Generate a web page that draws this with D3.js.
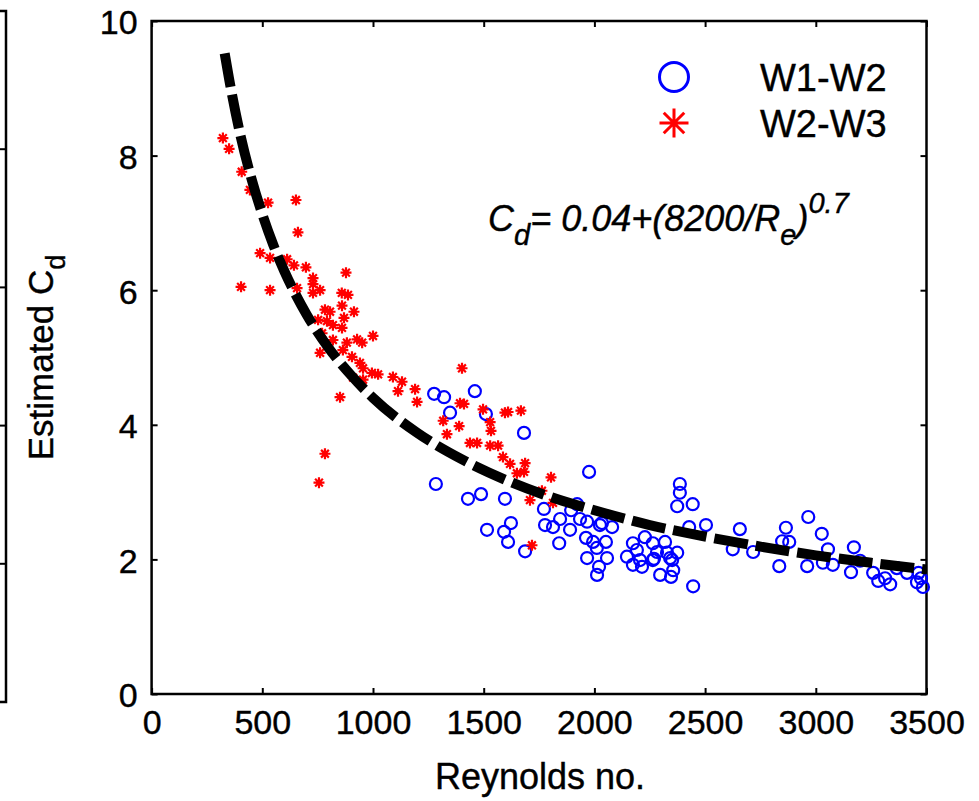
<!DOCTYPE html>
<html>
<head>
<meta charset="utf-8">
<script src="https://cdn.jsdelivr.net/npm/d3@7"></script>
<style>
  body { margin: 0; background: #fff; }
  svg { display: block; font-family: "Liberation Sans", Arial, sans-serif; }
  text { stroke: #000; stroke-width: 0.4px; }
</style>
</head>
<body>
<div id="chart"></div>
<script>
// W1-W2 (blue circles): Reynolds no., estimated Cd
var w12Re = [1276, 1321, 1460, 1348, 1510, 1682, 1284, 1429, 1488, 1596, 1772, 1777, 1515, 1623, 1592,
  1610, 1687, 1813, 1845, 1890, 1841, 1976, 1895, 1922, 1935, 1967, 2025, 2080, 2034, 1962, 1994, 2052,
  2011, 1967, 2057, 2021, 2012, 2386, 2386, 2374, 2444, 2428, 2504, 2657, 2625, 2147, 2174, 2192, 2228,
  2264, 2319, 2283, 2206, 2174, 2215, 2264, 2328, 2351, 2374, 2356, 2297, 2446, 2346, 2269, 2342, 2717,
  2865, 2848, 2880, 2835, 2961, 2966, 3027, 3055, 3032, 3077, 3172, 3159, 3200, 3259, 3282, 3313, 3336,
  3366, 3412, 3464, 3457, 3484, 3475];
var w12Cd = [4.46, 4.41, 4.50, 4.18, 4.16, 3.88, 3.12, 2.90, 2.97, 2.90, 2.75, 2.51, 2.44, 2.54, 2.41,
  2.26, 2.12, 2.48, 2.60, 2.44, 2.24, 3.30, 2.73, 2.82, 2.60, 2.56, 2.51, 2.48, 2.54, 2.32, 2.26, 2.26,
  2.17, 2.02, 2.02, 1.89, 1.77, 3.12, 2.99, 2.79, 2.82, 2.48, 2.51, 2.45, 2.15, 2.04, 2.24, 2.14, 2.33,
  2.24, 2.26, 2.11, 1.99, 1.92, 1.89, 1.99, 2.10, 1.99, 2.10, 1.84, 1.77, 1.60, 1.74, 2.01, 2.02, 2.11,
  2.47, 2.27, 2.26, 1.90, 1.90, 2.63, 2.38, 2.15, 1.95, 1.92, 2.18, 1.81, 1.98, 1.80, 1.68, 1.72, 1.63,
  1.87, 1.80, 1.80, 1.66, 1.59, 1.72];

// W2-W3 (red asterisks)
var w23Re = [322, 350, 526, 652, 661, 490, 535, 612, 643, 697, 404, 535, 657, 729, 729, 878, 729, 761,
  859, 887, 860, 914, 783, 806, 869, 752, 792, 819, 860, 1000, 928, 882, 770, 819, 951, 864, 761, 905,
  941, 955, 995, 1023, 910, 955, 1090, 1131, 1113, 1190, 1199, 851, 783, 756, 1402, 1393, 1411, 1317,
  1389, 1334, 1497, 1529, 1533, 1596, 1610, 1668, 1438, 1470, 1529, 1565, 1587, 1619, 1687, 1650, 1682,
  1804, 1763, 1709, 1813, 1718, 444, 407];
var w23Cd = [8.26, 8.10, 7.30, 7.34, 6.86, 6.55, 6.48, 6.46, 6.37, 6.34, 6.05, 6.00, 6.03, 6.18, 6.09,
  6.26, 5.96, 6.00, 5.96, 5.93, 5.77, 5.68, 5.71, 5.68, 5.59, 5.56, 5.54, 5.48, 5.44, 5.32, 5.27, 5.22,
  5.36, 5.26, 5.22, 5.11, 5.07, 5.01, 4.92, 4.84, 4.77, 4.75, 4.70, 4.67, 4.71, 4.64, 4.50, 4.53, 4.34,
  4.41, 3.57, 3.14, 4.84, 4.32, 4.31, 4.06, 3.98, 3.86, 4.23, 4.04, 3.91, 4.18, 4.19, 4.21, 3.73, 3.73,
  3.69, 3.69, 3.52, 3.42, 3.43, 3.28, 3.30, 3.22, 3.02, 2.88, 2.84, 2.21, 7.49, 7.76];

// fitted curve Cd = 0.04 + (8200/Re)^0.7
var fitRe = [330, 350, 400, 450, 500, 550, 600, 700, 800, 900, 1000, 1200, 1400, 1600, 1800, 2000,
  2250, 2500, 2750, 3000, 3250, 3500];
var fitCd = [9.52, 9.14, 8.32, 7.67, 7.13, 6.67, 6.28, 5.64, 5.14, 4.74, 4.40, 3.88, 3.49, 3.18, 2.93,
  2.73, 2.51, 2.34, 2.19, 2.06, 1.95, 1.85];

var xTicks = [0, 500, 1000, 1500, 2000, 2500, 3000, 3500];
var yTicks = [0, 2, 4, 6, 8, 10];
var seriesNames = ["W1-W2", "W2-W3"];

(function () {
  var W = 979, H = 801;
  var m = {left: 151.6, right: 926.5, top: 21, bottom: 694};
  var fontSize = 34;

  var svg = d3.select("#chart").append("svg")
    .attr("width", W)
    .attr("height", H);

  var x = d3.scaleLinear().domain([0, 3500]).range([m.left, m.right]);
  var y = d3.scaleLinear().domain([0, 10]).range([m.bottom, m.top]);

  // leftover frame of the neighbouring panel
  var side = d3.scaleLinear().domain([0, 5]).range([702, 11]);
  svg.append("path")
    .attr("d", "M0," + side(5) + "H6V" + side(0) + "H0")
    .attr("fill", "none").attr("stroke", "#000").attr("stroke-width", 2.5);
  svg.selectAll(".sidetick").data([1, 2, 3, 4]).enter().append("line")
    .attr("x1", 0).attr("x2", 6)
    .attr("y1", function (d) { return side(d); })
    .attr("y2", function (d) { return side(d); })
    .attr("stroke", "#000").attr("stroke-width", 2);

  // axes, ticks inside on all four sides
  var fmt = d3.format("d");
  var gx = svg.append("g").attr("transform", "translate(0," + m.bottom + ")")
    .call(d3.axisBottom(x).tickValues(xTicks).tickFormat(fmt).tickSizeInner(-6).tickSizeOuter(0).tickPadding(16));
  var gy = svg.append("g").attr("transform", "translate(" + m.left + ",0)")
    .call(d3.axisLeft(y).tickValues(yTicks).tickFormat(fmt).tickSizeInner(-6).tickSizeOuter(0).tickPadding(14));
  var gxt = svg.append("g").attr("transform", "translate(0," + m.top + ")")
    .call(d3.axisTop(x).tickValues(xTicks).tickSizeInner(-6).tickSizeOuter(0).tickFormat(""));
  var gyr = svg.append("g").attr("transform", "translate(" + m.right + ",0)")
    .call(d3.axisRight(y).tickValues(yTicks).tickSizeInner(-6).tickSizeOuter(0).tickFormat(""));

  [gx, gy, gxt, gyr].forEach(function (g) {
    g.select(".domain").remove();
    g.selectAll(".tick line").attr("stroke", "#000").attr("stroke-width", 2);
    g.selectAll("text").attr("font-size", fontSize).attr("fill", "#000")
      .attr("font-family", "'Liberation Sans', Arial, sans-serif");
  });
  gy.selectAll("text").attr("dy", "0.38em");

  svg.append("rect")
    .attr("x", m.left).attr("y", m.top)
    .attr("width", m.right - m.left).attr("height", m.bottom - m.top)
    .attr("fill", "none").attr("stroke", "#000").attr("stroke-width", 2.5);

  // blue circles
  svg.append("g").selectAll("circle").data(w12Re).enter().append("circle")
    .attr("cx", function (d) { return x(d); })
    .attr("cy", function (d, i) { return y(w12Cd[i]); })
    .attr("r", 6)
    .attr("fill", "none").attr("stroke", "#0000ff").attr("stroke-width", 2.2);

  // red asterisks
  function star(r) {
    var a = r * Math.SQRT1_2;
    return "M" + (-r) + ",0H" + r + "M0," + (-r) + "V" + r +
      "M" + (-a) + "," + (-a) + "L" + a + "," + a + "M" + (-a) + "," + a + "L" + a + "," + (-a);
  }
  svg.append("g").selectAll("path").data(w23Re).enter().append("path")
    .attr("transform", function (d, i) { return "translate(" + x(d) + "," + y(w23Cd[i]) + ")"; })
    .attr("d", star(5.5))
    .attr("fill", "none").attr("stroke", "#ff0000").attr("stroke-width", 2.2);

  // dashed fit line
  var line = d3.line()
    .x(function (d) { return x(d); })
    .y(function (d, i) { return y(fitCd[i]); })
    .curve(d3.curveMonotoneX);
  svg.append("path")
    .attr("d", line(fitRe))
    .attr("fill", "none").attr("stroke", "#000")
    .attr("stroke-width", 10).attr("stroke-dasharray", "34,8");

  // legend
  var legY = [77, 123];
  svg.append("circle").attr("cx", 674).attr("cy", legY[0]).attr("r", 14.5)
    .attr("fill", "none").attr("stroke", "#0000ff").attr("stroke-width", 3);
  svg.append("path").attr("transform", "translate(674," + legY[1] + ")")
    .attr("d", star(14.5))
    .attr("fill", "none").attr("stroke", "#ff0000").attr("stroke-width", 3);
  svg.selectAll(".legtext").data(seriesNames).enter().append("text")
    .attr("x", 760).attr("y", function (d, i) { return legY[i] + 14; })
    .attr("font-size", 38).text(function (d) { return d; });

  // formula
  var f = svg.append("text").attr("x", 488).attr("y", 231)
    .attr("font-size", 36).attr("font-style", "italic");
  f.append("tspan").text("C");
  f.append("tspan").attr("dy", 14).attr("font-size", 29).text("d");
  f.append("tspan").attr("dy", -14).text("= 0.04+(8200/R");
  f.append("tspan").attr("dy", 14).attr("font-size", 29).text("e");
  f.append("tspan").attr("dy", -14).text(")");
  f.append("tspan").attr("dy", -18).attr("font-size", 29).text("0.7");

  // axis titles
  svg.append("text").attr("x", (m.left + m.right) / 2 + 1).attr("y", 789)
    .attr("text-anchor", "middle").attr("font-size", 36).text("Reynolds no.");
  var yl = svg.append("text")
    .attr("transform", "translate(53," + (m.top + m.bottom) / 2 + ") rotate(-90)")
    .attr("text-anchor", "middle").attr("font-size", 35);
  yl.append("tspan").text("Estimated C");
  yl.append("tspan").attr("dy", 12).attr("font-size", 27).text("d");
})();
</script>
</body>
</html>
